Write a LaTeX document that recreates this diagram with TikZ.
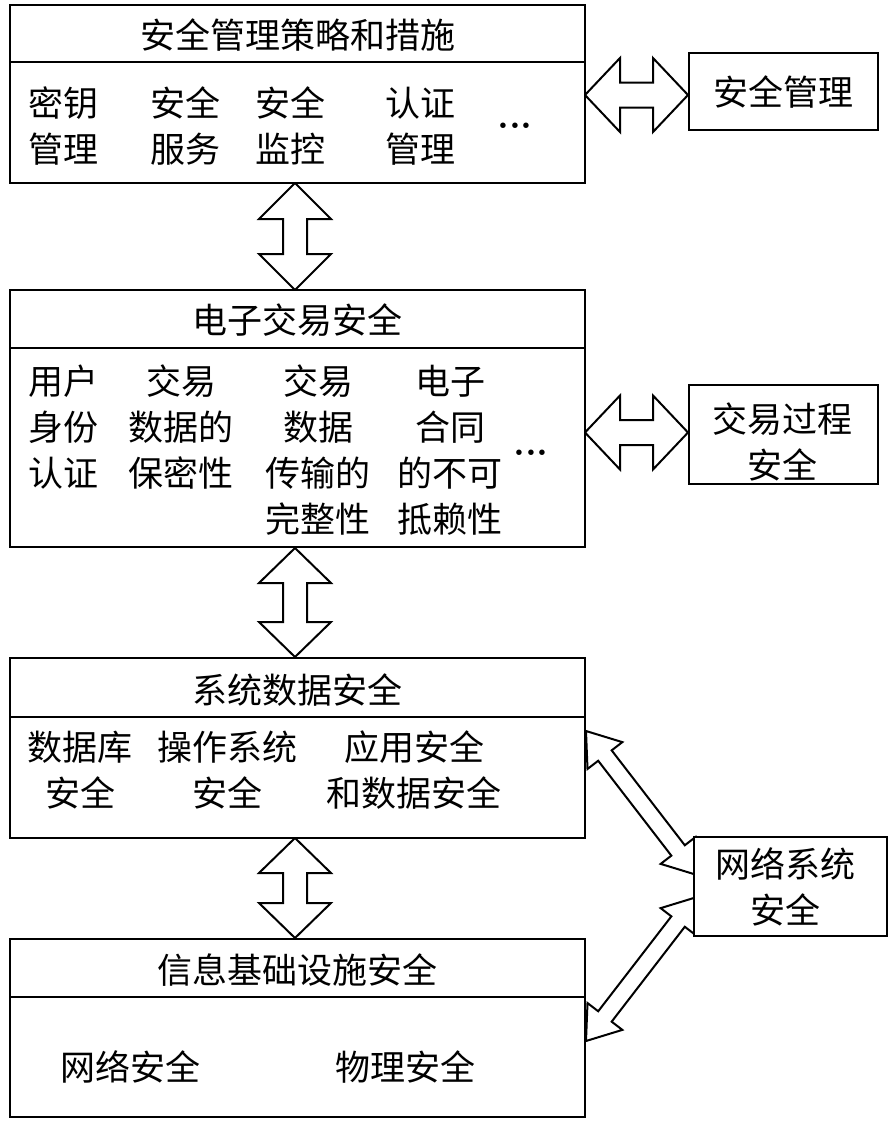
\documentclass[tikz,border=0pt]{standalone}
\usepackage{fontspec}
\newfontfamily\cjk{Noto Sans CJK SC}
\usetikzlibrary{calc}
\newcommand\fatarrow[5]{%
\draw[fat] (#1) -- ($(#1)!#3!(#2)!#4!90:(#2)$) -- ($(#1)!#3!(#2)!#5!90:(#2)$)
 -- ($(#2)!#3!(#1)!#5!-90:(#1)$) -- ($(#2)!#3!(#1)!#4!-90:(#1)$) -- (#2)
 -- ($(#2)!#3!(#1)!#4!90:(#1)$) -- ($(#2)!#3!(#1)!#5!90:(#1)$)
 -- ($(#1)!#3!(#2)!#5!-90:(#2)$) -- ($(#1)!#3!(#2)!#4!-90:(#2)$) -- cycle;}
\tikzset{
  box/.style={draw, line width=2.6pt, fill=white, inner sep=0pt, outer sep=0pt},
  divider/.style={line width=2pt},
  fat/.style={draw, line width=2pt, fill=white, line join=miter},
  lbl/.style={font=\cjk\fontsize{35}{46}\selectfont, align=center, inner sep=0pt},
  dots/.style={font=\fontsize{38}{38}\selectfont\bfseries, inner sep=0pt, anchor=base}
}
\begin{document}
\begin{tikzpicture}[x=1pt,y=-1pt]
\useasboundingbox (0,0) rectangle (895,1125);
% connector end points
\coordinate (h1a) at (585,95);   \coordinate (h1b) at (688,95);
\coordinate (h2a) at (585,432.5);\coordinate (h2b) at (688,432.5);
\coordinate (v1a) at (295,183);  \coordinate (v1b) at (295,290);
\coordinate (v2a) at (295,548);  \coordinate (v2b) at (295,657);
\coordinate (v3a) at (295,838);  \coordinate (v3b) at (295,938);
\coordinate (d1a) at (586,731);  \coordinate (d1b) at (697,875);
\coordinate (d2a) at (586,1041); \coordinate (d2b) at (697,897);
% fat double arrows
\fatarrow{h1a}{h1b}{35pt}{37pt}{12.5pt}
\fatarrow{h2a}{h2b}{35pt}{37pt}{12.5pt}
\fatarrow{v1a}{v1b}{36pt}{36pt}{12pt}
\fatarrow{v2a}{v2b}{35pt}{36pt}{12pt}
\fatarrow{v3a}{v3b}{35pt}{36pt}{12pt}
\fatarrow{d1a}{d1b}{31pt}{22pt}{8.5pt}
\fatarrow{d2a}{d2b}{31pt}{22pt}{8.5pt}
% boxes
\node[box, minimum width=575pt, minimum height=178pt] (b1) at (297.5,94) {};
\node[box, minimum width=575pt, minimum height=257pt] (b2) at (297.5,418.5) {};
\node[box, minimum width=575pt, minimum height=180pt] (b3) at (297.5,748) {};
\node[box, minimum width=575pt, minimum height=178pt] (b4) at (297.5,1028) {};
\node[box, minimum width=189pt, minimum height=77pt] (sm) at (783.5,91.5) {};
\node[box, minimum width=189pt, minimum height=99pt] (tp) at (783.5,434.5) {};
\node[box, minimum width=193pt, minimum height=99pt] (ns) at (790.5,886.5) {};
% dividers
\draw[divider] (b1.west |- 0,62) -- (b1.east |- 0,62);
\draw[divider] (b2.west |- 0,348) -- (b2.east |- 0,348);
\draw[divider] (b3.west |- 0,717) -- (b3.east |- 0,717);
\draw[divider] (b4.west |- 0,997) -- (b4.east |- 0,997);
% titles
\node[lbl] (t1) at (297.5,35) {安全管理策略和措施};
\node[lbl] (t2) at (297.5,320) {电子交易安全};
\node[lbl] (t3) at (297.5,690) {系统数据安全};
\node[lbl] (t4) at (297.5,970) {信息基础设施安全};
% box 1 content
\node[lbl] (c11) at (63,126) {密钥\\管理};
\node[lbl] (c12) at (185,126) {安全\\服务};
\node[lbl] (c13) at (290,126) {安全\\监控};
\node[lbl] (c14) at (420,126) {认证\\管理};
\node[dots] (e1) at (515,128) {...};
% box 2 content
\node[lbl] (c21) at (63,427.5) {用户\\身份\\认证};
\node[lbl] (c22) at (181,427.5) {交易\\数据的\\保密性};
\node[lbl] (c23) at (318,450.5) {交易\\数据\\传输的\\完整性};
\node[lbl] (c24) at (450,450.5) {电子\\合同\\的不可\\抵赖性};
\node[dots] (e2) at (531,455) {...};
% box 3 content
\node[lbl] (c31) at (80,770) {数据库\\安全};
\node[lbl] (c32) at (227,770) {操作系统\\安全};
\node[lbl] (c33) at (414,770) {应用安全\\和数据安全};
% box 4 content
\node[lbl] (c41) at (130,1067) {网络安全};
\node[lbl] (c42) at (405,1067) {物理安全};
% side boxes text
\node[lbl] (s1) at (783,92) {安全管理};
\node[lbl] (s2) at (782,442) {交易过程\\安全};
\node[lbl] (s3) at (785,887) {网络系统\\安全};
\end{tikzpicture}
\end{document}
